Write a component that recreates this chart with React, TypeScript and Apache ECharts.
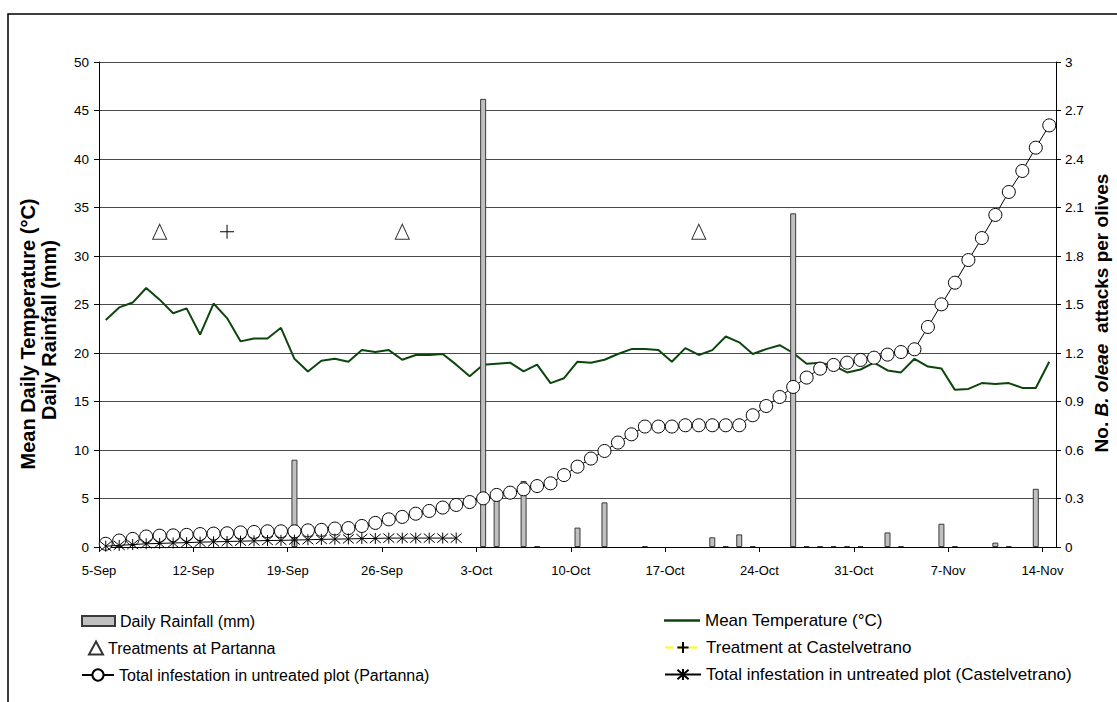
import React, { useEffect, useRef } from "react";
import * as echarts from "echarts";

// ---- Data ----
const monthNames = ["Sep", "Oct", "Nov"];
const monthLengths = [30, 31, 30];
const startDay = 5;
const dayCount = 71;
const dates: string[] = [];
{
  let m = 0;
  let d = startDay;
  for (let i = 0; i < dayCount; i++) {
    dates.push(`${d}-${monthNames[m]}`);
    d++;
    if (d > monthLengths[m]) {
      d = 1;
      m++;
    }
  }
}

// Daily rainfall (mm), index = day from 5-Sep; null = no rain
const rainfall: (number | null)[] = [
  null, null, null, null, null, null, null, null, null, null,
  null, null, null, null, 9.0, null, null, null, null, null,
  null, null, null, null, null, null, null, null, 46.2, 5.2,
  null, 6.8, 0.1, null, null, 2.0, null, 4.6, null, null,
  0.1, null, null, null, null, 1.0, 0.1, 1.3, 0.1, null,
  null, 34.4, 0.1, 0.1, 0.1, 0.1, 0.1, null, 1.5, 0.1,
  null, null, 2.4, 0.1, null, null, 0.45, 0.1, null, 6.0,
  null,
];

// Mean daily temperature (°C)
const temperature: number[] = [
  23.4, 24.7, 25.2, 26.7, 25.5, 24.1, 24.6, 21.9, 25.1, 23.6,
  21.2, 21.5, 21.5, 22.6, 19.4, 18.1, 19.2, 19.4, 19.1, 20.3,
  20.1, 20.3, 19.3, 19.8, 19.8, 19.9, 18.8, 17.6, 18.8, 18.9,
  19.0, 18.1, 18.8, 16.9, 17.4, 19.1, 19.0, 19.3, 19.9, 20.4,
  20.4, 20.3, 19.1, 20.5, 19.8, 20.3, 21.7, 21.1, 19.9, 20.4,
  20.8, 20.0, 18.9, 19.0, 18.7, 18.0, 18.3, 19.0, 18.2, 18.0,
  19.4, 18.6, 18.4, 16.2, 16.3, 16.9, 16.8, 16.9, 16.4, 16.4,
  19.1,
];

// Total infestation in untreated plot (Partanna) – attacks per olive
const infestPartanna: number[] = [
  0.02, 0.04, 0.05, 0.065, 0.07, 0.072, 0.075, 0.08, 0.083, 0.085,
  0.09, 0.093, 0.097, 0.097, 0.097, 0.103, 0.106, 0.114, 0.117, 0.13,
  0.149, 0.171, 0.186, 0.206, 0.223, 0.244, 0.26, 0.278, 0.301, 0.322,
  0.336, 0.357, 0.377, 0.394, 0.445, 0.497, 0.547, 0.594, 0.646, 0.697,
  0.745, 0.745, 0.745, 0.753, 0.753, 0.753, 0.753, 0.753, 0.815, 0.872,
  0.928, 0.99, 1.048, 1.103, 1.126, 1.14, 1.157, 1.171, 1.19, 1.206,
  1.223, 1.361, 1.501, 1.635, 1.775, 1.911, 2.054, 2.196, 2.326, 2.47,
  2.608,
];

// Total infestation in untreated plot (Castelvetrano), days 0..26
const infestCastelvetrano: number[] = [
  0.005, 0.01, 0.015, 0.02, 0.022, 0.025, 0.027, 0.03, 0.032, 0.034,
  0.036, 0.038, 0.04, 0.041, 0.043, 0.045, 0.047, 0.049, 0.05, 0.052,
  0.053, 0.055, 0.055, 0.055, 0.055, 0.055, 0.055,
];

// Treatment days (index from 5-Sep) and the marker level (left axis)
const treatmentDaysPartanna: number[] = [4, 22, 44];
const treatmentDaysCastelvetrano: number[] = [9];
const treatmentMarkerLevel = 32.5;

const leftTicks = { min: 0, max: 50, interval: 5 };
const rightTicks = { min: 0, max: 3, interval: 0.3 };
const xTickEvery = 7;

const FONT = "'Liberation Sans', Arial, Helvetica, sans-serif";

const plusPath = "path://M5,0L5,10M0,5L10,5";
const starPath = "path://M0,0L10,10M0,10L10,0M5,-1L5,11";

export default function App() {
  const ref = useRef<HTMLDivElement>(null);

  useEffect(() => {
    if (!ref.current) return;
    const chart = echarts.init(ref.current, undefined, { renderer: "svg" });

    const at = (i: number) => i + 0.5;

    const legendCommon = (fontSize: number) => ({
      orient: "horizontal" as const,
      padding: 0,
      itemGap: 0,
      selectedMode: false,
      textStyle: { fontSize, fontFamily: FONT, color: "#000", padding: [0, 0, 0, 0] },
    });

    const option: any = {
      animation: false,
      backgroundColor: "#fff",
      grid: { left: 99, right: 61, top: 62, bottom: 155, containLabel: false },
      xAxis: {
        type: "value",
        min: 0,
        max: dayCount,
        interval: xTickEvery,
        axisLine: { show: true, onZero: false, lineStyle: { color: "#000", width: 1 } },
        axisTick: { show: true, inside: false, length: 5, lineStyle: { color: "#000" } },
        splitLine: { show: false },
        axisLabel: {
          margin: 17,
          fontSize: 13,
          fontFamily: FONT,
          color: "#000",
          showMaxLabel: false,
          formatter: (v: number) =>
            v % xTickEvery === 0 && v < dates.length ? dates[v] : "",
        },
      },
      yAxis: [
        {
          type: "value",
          position: "left",
          min: leftTicks.min,
          max: leftTicks.max,
          interval: leftTicks.interval,
          axisLine: { show: true, lineStyle: { color: "#000", width: 1 } },
          axisTick: { show: true, inside: false, length: 5, lineStyle: { color: "#000" } },
          splitLine: { show: true, lineStyle: { color: "#4a4a4a", width: 1 } },
          axisLabel: { margin: 10, fontSize: 13.5, fontFamily: FONT, color: "#000" },
        },
        {
          type: "value",
          position: "right",
          min: rightTicks.min,
          max: rightTicks.max,
          interval: rightTicks.interval,
          axisLine: { show: true, lineStyle: { color: "#000", width: 1 } },
          axisTick: { show: true, inside: false, length: 5, lineStyle: { color: "#000" } },
          splitLine: { show: false },
          axisLabel: {
            margin: 9,
            fontSize: 13.5,
            fontFamily: FONT,
            color: "#000",
            formatter: (v: number) => String(Math.round(v * 10) / 10),
          },
        },
      ],
      legend: [
        {
          ...legendCommon(16),
          data: [{ name: "Daily Rainfall (mm)", icon: "rect" }],
          left: 81,
          top: 613,
          itemWidth: 33,
          itemHeight: 10,
        },
        {
          ...legendCommon(16),
          data: ["Treatments at Partanna"],
          left: 88,
          top: 640,
          itemWidth: 14,
          itemHeight: 13,
        },
        {
          ...legendCommon(16),
          data: ["Total infestation in untreated plot (Partanna)"],
          left: 81,
          top: 667,
          itemWidth: 32,
          itemHeight: 14,
        },
        {
          ...legendCommon(17),
          data: [{ name: "Mean Temperature (°C)", icon: "rect" }],
          left: 664,
          top: 612,
          itemWidth: 36,
          itemHeight: 2.5,
        },
        {
          ...legendCommon(17),
          data: ["Treatment at Castelvetrano"],
          left: 664,
          top: 639,
          itemWidth: 36,
          itemHeight: 14,
        },
        {
          ...legendCommon(17),
          data: ["Total infestation in untreated plot (Castelvetrano)"],
          left: 664,
          top: 666,
          itemWidth: 36,
          itemHeight: 14,
        },
      ],
      graphic: [
        {
          type: "rect",
          silent: true,
          shape: { x: 8, y: 14, width: 1400, height: 1000 },
          style: { fill: "none", stroke: "#000", lineWidth: 1.5 },
        },
        {
          type: "text",
          silent: true,
          x: 28,
          y: 334,
          rotation: Math.PI / 2,
          style: {
            text: "Mean Daily Temperature (°C)",
            fontSize: 20,
            fontWeight: "bold",
            fontFamily: FONT,
            fill: "#000",
            align: "center",
            verticalAlign: "middle",
            textAlign: "center",
            textVerticalAlign: "middle",
          },
        },
        {
          type: "text",
          silent: true,
          x: 49,
          y: 330,
          rotation: Math.PI / 2,
          style: {
            text: "Daily Rainfall (mm)",
            fontSize: 20,
            fontWeight: "bold",
            fontFamily: FONT,
            fill: "#000",
            align: "center",
            verticalAlign: "middle",
            textAlign: "center",
            textVerticalAlign: "middle",
          },
        },
        {
          type: "text",
          silent: true,
          x: 1101,
          y: 313,
          rotation: Math.PI / 2,
          style: {
            text: "{b|No. }{bi|B. oleae}{b|  attacks per olives}",
            align: "center",
            verticalAlign: "middle",
            textAlign: "center",
            textVerticalAlign: "middle",
            rich: {
              b: { fontSize: 19, fontWeight: "bold", fontFamily: FONT, fill: "#000", color: "#000" },
              bi: {
                fontSize: 19,
                fontWeight: "bold",
                fontStyle: "italic",
                fontFamily: FONT,
                fill: "#000",
                color: "#000",
              },
            },
          },
        },
      ],
      series: [
        {
          name: "Daily Rainfall (mm)",
          type: "bar",
          yAxisIndex: 0,
          barWidth: 6,
          z: 3,
          itemStyle: { color: "#c0c0c0", borderColor: "#3a3a3a", borderWidth: 1 },
          data: rainfall
            .map((v, i) => (v === null ? null : [at(i), v]))
            .filter((p) => p !== null),
        },
        {
          name: "Mean Temperature (°C)",
          type: "line",
          yAxisIndex: 0,
          symbol: "none",
          z: 2,
          lineStyle: { color: "#0d460d", width: 2 },
          itemStyle: { color: "#0d460d" },
          data: temperature.map((v, i) => [at(i), v]),
        },
        {
          name: "Treatments at Partanna",
          type: "scatter",
          yAxisIndex: 0,
          symbol: "triangle",
          symbolSize: [14, 15],
          z: 4,
          itemStyle: { color: "#fff", borderColor: "#000", borderWidth: 1 },
          data: treatmentDaysPartanna.map((d) => [at(d), treatmentMarkerLevel]),
        },
        {
          name: "Treatment at Castelvetrano",
          type: "line",
          yAxisIndex: 0,
          symbol: plusPath,
          symbolSize: 14,
          showSymbol: true,
          z: 4,
          lineStyle: { color: "#ffff00", type: "dashed", width: 1.5 },
          itemStyle: { color: "#000", borderColor: "#000", borderWidth: 1 },
          data: treatmentDaysCastelvetrano.map((d) => [at(d), treatmentMarkerLevel]),
        },
        {
          name: "Total infestation in untreated plot (Partanna)",
          type: "line",
          yAxisIndex: 1,
          symbol: "circle",
          symbolSize: 13,
          showSymbol: true,
          z: 5,
          lineStyle: { color: "#000", width: 1 },
          itemStyle: { color: "#fff", borderColor: "#000", borderWidth: 1 },
          data: infestPartanna.map((v, i) => [at(i), v]),
        },
        {
          name: "Total infestation in untreated plot (Castelvetrano)",
          type: "line",
          yAxisIndex: 1,
          symbol: starPath,
          symbolSize: 11,
          showSymbol: true,
          z: 6,
          lineStyle: { color: "#000", width: 1 },
          itemStyle: { color: "#000", borderColor: "#000", borderWidth: 1 },
          data: infestCastelvetrano.map((v, i) => [at(i), v]),
        },
      ],
    };

    chart.setOption(option);
    return () => {
      chart.dispose();
    };
  }, []);

  return (
    <div
      ref={ref}
      style={{
        position: "fixed",
        left: 0,
        top: 0,
        width: 1117,
        height: 702,
        background: "#fff",
      }}
    />
  );
}
